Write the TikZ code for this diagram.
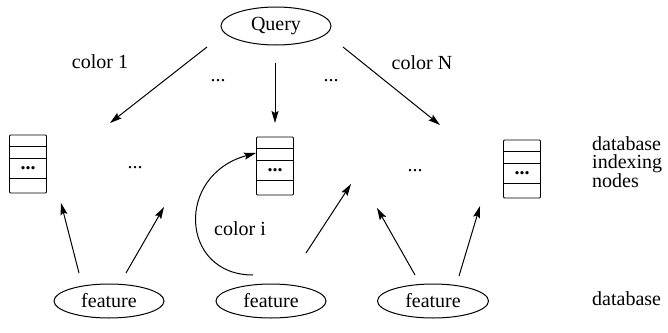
\documentclass[tikz,border=0pt]{standalone}
\usepackage{fontspec}
\setmainfont{Liberation Serif}
\usetikzlibrary{arrows.meta,shapes.geometric}
\newcommand{\mystack}[3]{%
  \node[stackbox] (#1) at (#2,#3+29) {};
  \draw[boxline] ([yshift=-12pt]#1.north west) -- ([yshift=-12pt]#1.north east);
  \draw[boxline] ([yshift=-24pt]#1.north west) -- ([yshift=-24pt]#1.north east);
  \draw[boxline] ([yshift=-44pt]#1.north west) -- ([yshift=-44pt]#1.north east);
  \node[txt] (#1dots) at (#2,#3+33) {\textbf{...}};
}
\begin{document}
\begin{tikzpicture}[x=1pt,y=-1pt,
  txt/.style={font=\fontsize{20}{18.5}\selectfont, inner sep=0pt},
  ell/.style={draw, ellipse, line width=1pt, minimum width=108pt, minimum height=34pt, inner sep=0pt, font=\fontsize{20}{18.5}\selectfont},
  stackbox/.style={draw, line width=0.9pt, minimum width=37pt, minimum height=58pt, inner sep=0pt, rounded corners=1pt},
  boxline/.style={line width=0.9pt},
  arr/.style={line width=1pt, -{Stealth[length=12pt,width=7pt,inset=2pt]}}
]
\useasboundingbox (0,0) rectangle (668,332);

% query
\node[ell, minimum width=110pt, minimum height=38pt] (query) at (276,26) {Query};

% labels
\node[txt] (c1) at (100,62) {color 1};
\node[txt] (cN) at (422,63) {color N};
\node[txt] (ci) at (240,229) {color i};
\node[txt] (d1) at (218,81) {...};
\node[txt] (d2) at (331,81) {...};
\node[txt] (d3) at (135,168) {...};
\node[txt] (d4) at (415,171) {...};

% stacks
\mystack{b1}{28}{135}
\mystack{b2}{275}{137}
\mystack{b3}{522}{140}

\node[txt, anchor=west, align=left] (idx) at (592,162) {database\\indexing\\nodes};
\node[txt, anchor=west] (db) at (592,299) {database};

% features
\node[ell, minimum width=110pt] (f1) at (109,301) {feature};
\node[ell, minimum width=110pt] (f2) at (271,301) {feature};
\node[ell, minimum width=111pt] (f3) at (433,301) {feature};

% coordinates
\coordinate (q1s) at (207,47);  \coordinate (q1e) at (110,123);
\coordinate (q2s) at (275,63);  \coordinate (q2e) at (275,123);
\coordinate (q3s) at (343,47);  \coordinate (q3e) at (440,125);
\coordinate (a1s) at (79,273);  \coordinate (a1e) at (61,203);
\coordinate (a2s) at (126,273); \coordinate (a2e) at (164,207);
\coordinate (a3s) at (306,253); \coordinate (a3e) at (351,184);
\coordinate (a4s) at (415,275); \coordinate (a4e) at (377,208);
\coordinate (a5s) at (459,276); \coordinate (a5e) at (480,206);
\coordinate (cis) at (253,275);

\draw[arr] (q1s) -- (q1e);
\draw[arr] (q2s) -- (q2e);
\draw[arr] (q3s) -- (q3e);
\draw[arr] (a1s) -- (a1e);
\draw[arr] (a2s) -- (a2e);
\draw[arr] (a3s) -- (a3e);
\draw[arr] (a4s) -- (a4e);
\draw[arr] (a5s) -- (a5e);
\draw[arr] (cis) .. controls (180,275) and (175,175) .. ([yshift=13pt]b2.west);
\end{tikzpicture}
\end{document}
